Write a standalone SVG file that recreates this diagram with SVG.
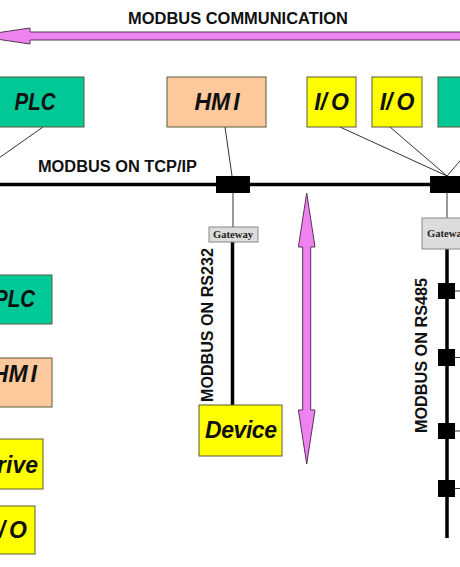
<svg xmlns="http://www.w3.org/2000/svg" width="460" height="567" viewBox="0 0 460 567">
<style>
.box{stroke:#5a5a3c;stroke-width:1}
.plc{fill:#00C896}
.hmi{fill:#FBC99B}
.yel{fill:#FFFF00}
.lbl{font-family:"Liberation Sans",Arial,sans-serif;font-weight:bold;font-style:italic;font-size:23px;fill:#111}
.cap{font-family:"Liberation Sans",Arial,sans-serif;font-weight:bold;font-size:16px;fill:#111}
.gw{fill:#DCDCDC;stroke:#888;stroke-width:1}
.gwt{font-family:"Liberation Serif","Times New Roman",serif;font-weight:bold;font-size:10.5px;fill:#222}
.thin{stroke:#333;stroke-width:1;fill:none}
.bus{stroke:#000;fill:none}
.arrow{fill:#EE82EE;stroke:#553355;stroke-width:1}
.blk{fill:#000}
</style>
<rect width="460" height="567" fill="#fff"/>

<g id="title">
<text class="cap" x="238" y="24" text-anchor="middle" textLength="220" lengthAdjust="spacingAndGlyphs">MODBUS COMMUNICATION</text>
<polygon class="arrow" points="-24,36 30,28 30,32 490,32 490,40 30,40 30,44"/>
</g>

<g id="connectors">
<line class="thin" x1="43" y1="127" x2="-38" y2="184"/>
<line class="thin" x1="225" y1="127" x2="232" y2="176"/>
<line class="thin" x1="233" y1="193" x2="233" y2="227"/>
<line class="thin" x1="340" y1="127" x2="447" y2="176"/>
<line class="thin" x1="390" y1="127" x2="447" y2="176"/>
<line class="thin" x1="489" y1="127" x2="447" y2="176"/>
<line class="thin" x1="447" y1="193" x2="447" y2="218"/>
<line class="bus" x1="0" y1="184.5" x2="460" y2="184.5" stroke-width="3.5"/>
<line class="bus" x1="232.5" y1="242" x2="232.5" y2="405" stroke-width="3.5"/>
<line class="bus" x1="447" y1="249" x2="447" y2="538" stroke-width="3.5"/>
<rect class="blk" x="216" y="176" width="34" height="17"/>
<rect class="blk" x="430" y="176" width="40" height="17"/>
<rect class="blk" x="438" y="283" width="17" height="16"/>
<rect class="blk" x="438" y="349" width="17" height="17"/>
<rect class="blk" x="438" y="423" width="17" height="16"/>
<rect class="blk" x="438" y="480" width="17" height="17"/>
<line class="thin" x1="455" y1="291" x2="460" y2="291"/>
<line class="thin" x1="455" y1="357.5" x2="460" y2="357.5"/>
<line class="thin" x1="455" y1="431" x2="460" y2="431"/>
<line class="thin" x1="455" y1="488.5" x2="460" y2="488.5"/>
<polygon class="arrow" points="306.7,193 315,247 310.7,247 310.7,410 315,410 306.7,464 298.4,410 302.7,410 302.7,247 298.4,247"/>
<text class="cap" x="0" y="0" text-anchor="middle" transform="translate(212.5,325) rotate(-90)" textLength="154" lengthAdjust="spacingAndGlyphs">MODBUS ON RS232</text>
<text class="cap" x="0" y="0" text-anchor="middle" transform="translate(426.5,355.5) rotate(-90)" textLength="155" lengthAdjust="spacingAndGlyphs">MODBUS ON RS485</text>
<text class="cap" x="38" y="171.5" textLength="159" lengthAdjust="spacingAndGlyphs">MODBUS ON TCP/IP</text>
</g>

<g id="plc-top"><rect class="box plc" x="-14" y="77" width="98" height="50"/><text class="lbl" x="35" y="110" text-anchor="middle" textLength="41" lengthAdjust="spacingAndGlyphs">PLC</text></g>
<g id="hmi-top"><rect class="box hmi" x="167" y="77" width="99" height="50"/><text class="lbl" x="217" y="110" text-anchor="middle">HM<tspan dx="3">I</tspan></text></g>
<g id="io-1"><rect class="box yel" x="307" y="77" width="49" height="50"/><text class="lbl" x="331.5" y="110" text-anchor="middle">I/<tspan dx="4">O</tspan></text></g>
<g id="io-2"><rect class="box yel" x="372" y="77" width="50" height="50"/><text class="lbl" x="397" y="110" text-anchor="middle">I/<tspan dx="4">O</tspan></text></g>
<g id="plc-right"><rect class="box plc" x="438" y="77" width="40" height="50"/></g>

<g id="gateway-1"><rect class="gw" x="209" y="227" width="49" height="15"/><text class="gwt" x="233" y="238.3" text-anchor="middle" textLength="40" lengthAdjust="spacingAndGlyphs">Gateway</text></g>
<g id="gateway-2"><rect class="gw" x="422" y="218" width="50" height="31"/><text class="gwt" x="427" y="237.3" textLength="40" lengthAdjust="spacingAndGlyphs">Gateway</text></g>

<g id="device"><rect class="box yel" x="199" y="405" width="83" height="51"/><text class="lbl" x="241" y="438" text-anchor="middle" textLength="72" lengthAdjust="spacing">Device</text></g>

<g id="plc-left"><rect class="box plc" x="-20" y="275" width="72" height="49"/><text class="lbl" x="35" y="306.7" text-anchor="end" textLength="41" lengthAdjust="spacingAndGlyphs">PLC</text></g>
<g id="hmi-left"><rect class="box hmi" x="-20" y="358" width="72" height="49"/><text class="lbl" x="37" y="381.7" text-anchor="end">HM<tspan dx="3">I</tspan></text></g>
<g id="drive-left"><rect class="box yel" x="-30" y="439" width="73" height="50"/><text class="lbl" x="38" y="472.7" text-anchor="end">Drive</text></g>
<g id="io-left"><rect class="box yel" x="-30" y="506" width="65" height="48"/><text class="lbl" x="27" y="537.7" text-anchor="end">I/<tspan dx="4">O</tspan></text></g>
</svg>
